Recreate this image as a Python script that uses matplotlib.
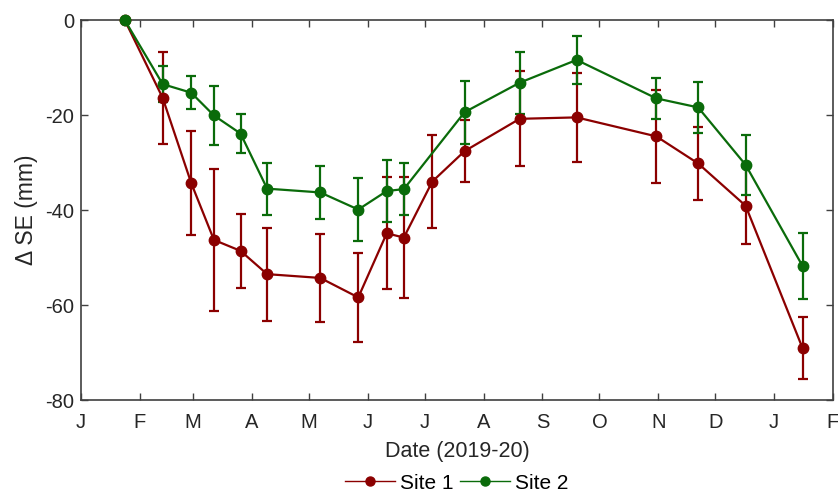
import datetime as dt
import matplotlib
matplotlib.use("Agg")
import matplotlib.pyplot as plt
from matplotlib.lines import Line2D

plt.rcParams['font.family'] = ['Liberation Sans', 'DejaVu Sans']
plt.rcParams['axes.unicode_minus'] = False

# Sampling dates (2019-20)
dates = ["2019-01-24", "2019-02-13", "2019-02-28", "2019-03-12", "2019-03-26",
         "2019-04-09", "2019-05-07", "2019-05-27", "2019-06-11", "2019-06-20",
         "2019-07-05", "2019-07-22", "2019-08-20", "2019-09-19", "2019-10-31",
         "2019-11-22", "2019-12-17", "2020-01-16"]

# Change in storage (mm) and error bars; None where a site was not sampled
site1_mean = [0, -16.4, -34.3, -46.3, -48.6, -53.5, -54.3, -58.4, -44.9, -45.8,
              -34.0, -27.6, -20.8, -20.5, -24.5, -30.2, -39.1, -69.1]
site1_err = [0, 9.7, 11.0, 15.0, 7.8, 9.8, 9.2, 9.3, 11.8, 12.8,
             9.8, 6.6, 10.0, 9.4, 9.8, 7.6, 8.1, 6.5]
site2_mean = [0, -13.5, -15.3, -20.1, -23.9, -35.5, -36.3, -39.9, -36.0, -35.6,
              None, -19.4, -13.2, -8.4, -16.5, -18.4, -30.5, -51.8]
site2_err = [0, 3.8, 3.5, 6.3, 4.1, 5.5, 5.6, 6.6, 6.6, 5.4,
             None, 6.6, 6.5, 5.0, 4.3, 5.3, 6.3, 7.0]

month_starts = ["2019-01-01", "2019-02-01", "2019-03-01", "2019-04-01", "2019-05-01",
                "2019-06-01", "2019-07-01", "2019-08-01", "2019-09-01", "2019-10-01",
                "2019-11-01", "2019-12-01", "2020-01-01", "2020-02-01"]
month_labels = ["J", "F", "M", "A", "M", "J", "J", "A", "S", "O", "N", "D", "J", "F"]

origin = dt.date(2019, 1, 1)


def day_num(s):
    return (dt.date.fromisoformat(s) - origin).days


x_all = [day_num(d) for d in dates]
ticks = [day_num(d) for d in month_starts]

RED = '#8b0000'
GREEN = '#0a6b0a'
AXC = '#404040'
TXT = '#262626'

fig = plt.figure(figsize=(8.38, 4.93), dpi=100)
ax = fig.add_axes([0.0967, 0.1886, 0.8973, 0.7708])


def draw(means, errs, color):
    xs = [x for x, m in zip(x_all, means) if m is not None]
    ms = [m for m in means if m is not None]
    es = [e for e, m in zip(errs, means) if m is not None]
    # no error bar at the reference (first) date
    ax.errorbar(xs[1:], ms[1:], yerr=es[1:], fmt='none', ecolor=color,
                elinewidth=1.6, capsize=3.5, capthick=1.6, zorder=3)
    ax.plot(xs, ms, '-o', color=color, lw=1.6, ms=7.5, zorder=4, clip_on=False)


draw(site1_mean, site1_err, RED)
draw(site2_mean, site2_err, GREEN)

ax.set_xlim(ticks[0], ticks[-1])
ax.set_ylim(-80, 0)
ax.set_xticks(ticks)
ax.set_xticklabels(month_labels)
ax.set_yticks([-80, -60, -40, -20, 0])
ax.tick_params(direction='in', top=True, right=True, length=5, width=1.0,
               colors=AXC, labelsize=14.5, labelcolor=TXT)
ax.tick_params(axis='x', labeltop=False, pad=9)
ax.tick_params(axis='y', labelright=False, pad=5)
for sp in ax.spines.values():
    sp.set_color(AXC)
    sp.set_linewidth(1.2)

ax.set_xlabel('Date (2019-20)', fontsize=15.5, color=TXT, labelpad=7)
ax.set_ylabel('Δ SE (mm)', fontsize=16.5, color=TXT, labelpad=5)

handles = [Line2D([], [], color=RED, lw=1.0, marker='o', ms=6.5, alpha=1),
           Line2D([], [], color=GREEN, lw=1.0, marker='o', ms=6.5, alpha=1)]
fig.legend(handles, ['Site 1', 'Site 2'], loc='center', bbox_to_anchor=(0.545, 0.02),
           ncol=2, frameon=False, fontsize=15, handlelength=2.4,
           handletextpad=0.25, columnspacing=0.3, borderaxespad=0)

fig.savefig('out.png', dpi=100)
